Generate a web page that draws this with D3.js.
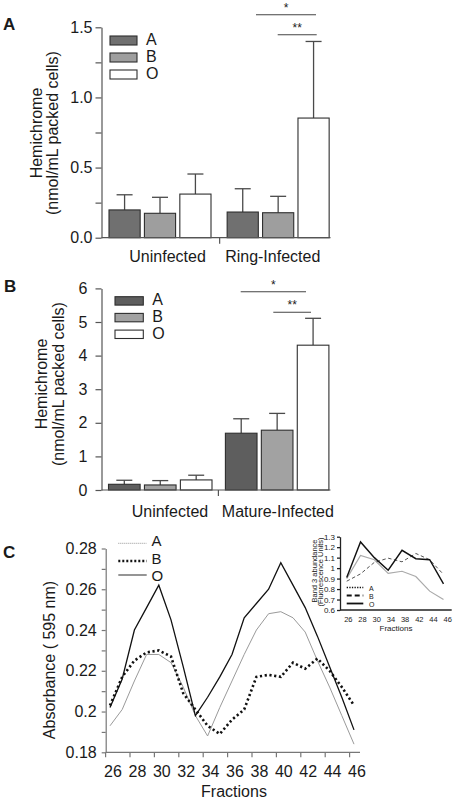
<!DOCTYPE html>
<html><head><meta charset="utf-8">
<script src="https://cdn.jsdelivr.net/npm/d3@7"></script>
<style>
body{margin:0;background:#fff}
svg{display:block}
text{font-family:"Liberation Sans",Arial,Helvetica,sans-serif;fill:#1a1a1a}
</style>
</head><body>
<svg id="chart" width="455" height="800"></svg>
<script>
// ---------------- DATA ----------------
const seriesNames = ["A", "B", "O"];

// Panel A
const groupsRing = ["Uninfected", "Ring-Infected"];
const uninfectedRingPanel = [0.198, 0.174, 0.311];
const uninfectedRingPanelSD = [0.108, 0.114, 0.143];
const ringInfected = [0.183, 0.178, 0.853];
const ringInfectedSD = [0.166, 0.117, 0.546];
const ticksPanelA = [0, 0.5, 1.0, 1.5];

// Panel B
const groupsMature = ["Uninfected", "Mature-Infected"];
const uninfectedMaturePanel = [0.17, 0.15, 0.30];
const uninfectedMaturePanelSD = [0.12, 0.13, 0.14];
const matureInfected = [1.69, 1.78, 4.31];
const matureInfectedSD = [0.43, 0.50, 0.80];
const ticksPanelB = [0, 1, 2, 3, 4, 5, 6];

// Panel C (main)
const fractions = [26, 27, 28, 29, 30, 31, 32, 33, 34, 35, 36, 37, 38, 39, 40, 41, 42, 43, 44, 45, 46];
const absorbanceA = [0.193, 0.201, 0.215, 0.228, 0.228, 0.224, 0.212, 0.198, 0.188, 0.202, 0.215, 0.228, 0.240, 0.248, 0.249, 0.246, 0.239, 0.225, 0.212, 0.198, 0.184];
const absorbanceB = [0.203, 0.217, 0.225, 0.229, 0.230, 0.227, 0.209, 0.201, 0.193, 0.189, 0.196, 0.201, 0.217, 0.218, 0.217, 0.224, 0.221, 0.226, 0.220, 0.212, 0.203];
const absorbanceO = [0.202, 0.216, 0.240, 0.251, 0.262, 0.245, 0.222, 0.198, 0.207, 0.217, 0.228, 0.246, 0.253, 0.260, 0.273, 0.262, 0.251, 0.237, 0.222, 0.207, 0.191];
const fractionTicks = [26, 28, 30, 32, 34, 36, 38, 40, 42, 44, 46];
const absorbanceTicks = [0.18, 0.2, 0.22, 0.24, 0.26, 0.28];

// Panel C (inset)
const insetFractions = ["26", "28", "30", "34", "38", "42", "44", "46"];
const band3A = [0.90, 1.12, 1.08, 0.95, 0.97, 0.92, 0.78, 0.70];
const band3B = [0.875, 0.945, 1.055, 1.095, 1.06, 1.14, 1.08, 0.94];
const band3O = [0.91, 1.25, 1.10, 0.98, 1.17, 1.09, 1.08, 0.85];
const insetTicks = [0.6, 0.7, 0.8, 0.9, 1, 1.1, 1.2, 1.3];

// ---------------- DRAW ----------------
const svg = d3.select("#chart");
const FONT = 16;

function panelLabel(t, x, y) {
  svg.append("text").attr("x", x).attr("y", y).text(t)
    .style("font-size", "17px").style("font-weight", "bold");
}

function barPanel(cfg) {
  const g = svg.append("g");
  const x0 = d3.scaleBand().domain(cfg.groups).range(cfg.xRange);
  const x1 = d3.scaleBand().domain(seriesNames).range(cfg.innerRange).paddingInner(0.12);
  const y = d3.scaleLinear().domain(cfg.domain).range(cfg.yRange);

  const rows = [];
  cfg.groups.forEach((grp, i) => seriesNames.forEach((s, j) => {
    rows.push({grp, s, v: cfg.values[i][j], e: cfg.sd[i][j]});
  }));

  // error bars (behind bars)
  const eb = g.append("g").attr("stroke", "#4a4a4a").attr("stroke-width", 1.3);
  rows.forEach(d => {
    const cx = x0(d.grp) + x1(d.s) + x1.bandwidth() / 2;
    eb.append("line").attr("x1", cx).attr("x2", cx).attr("y1", y(d.v)).attr("y2", y(d.v + d.e));
    eb.append("line").attr("x1", cx - 8).attr("x2", cx + 8).attr("y1", y(d.v + d.e)).attr("y2", y(d.v + d.e));
  });

  g.selectAll("rect.bar").data(rows).join("rect")
    .attr("x", d => x0(d.grp) + x1(d.s))
    .attr("y", d => y(d.v))
    .attr("width", x1.bandwidth())
    .attr("height", d => y(0) - y(d.v))
    .attr("fill", d => cfg.colors[d.s])
    .attr("stroke", "#2e2e2e").attr("stroke-width", 1.1);

  // y axis
  const ya = g.append("g").attr("transform", `translate(${cfg.xRange[0]},0)`)
    .call(d3.axisLeft(y).tickValues(cfg.minorTicks).tickSize(6).tickSizeOuter(0)
      .tickPadding(cfg.tickPad)
      .tickFormat(d => cfg.majorTicks.some(m => Math.abs(m - d) < 1e-9) ? cfg.fmt(d) : ""));
  ya.selectAll("path,line").attr("stroke", "#555").attr("stroke-width", 1.2);
  ya.selectAll("text").style("font-size", FONT + "px").attr("fill", "#1a1a1a");

  // x baseline
  g.append("line").attr("x1", cfg.xRange[0]).attr("x2", cfg.axisEnd)
    .attr("y1", y(0)).attr("y2", y(0)).attr("stroke", "#555").attr("stroke-width", 1.2);
  // separator tick
  const sx = x0(cfg.groups[1]);
  g.append("line").attr("x1", sx).attr("x2", sx).attr("y1", y(0)).attr("y2", y(0) + 6)
    .attr("stroke", "#555").attr("stroke-width", 1.2);

  // group labels
  cfg.groups.forEach((grp, i) => {
    g.append("text").attr("x", x0(grp) + x0.bandwidth() / 2 + cfg.labelDx[i])
      .attr("y", y(0) + cfg.labelDy).attr("text-anchor", "middle")
      .style("font-size", FONT + "px").text(grp);
  });

  // y title
  const ty = cfg.titleY;
  g.append("text").attr("transform", `translate(${cfg.titleX[0]},${ty}) rotate(-90)`)
    .attr("text-anchor", "middle").style("font-size", FONT + "px").text("Hemichrome");
  g.append("text").attr("transform", `translate(${cfg.titleX[1]},${ty}) rotate(-90)`)
    .attr("text-anchor", "middle").style("font-size", FONT + "px").text("(nmol/mL packed cells)");

  // legend
  seriesNames.forEach((s, i) => {
    const ly = cfg.legend.y + i * cfg.legend.step;
    g.append("rect").attr("x", cfg.legend.x).attr("y", ly)
      .attr("width", cfg.legend.w).attr("height", cfg.legend.h)
      .attr("fill", cfg.colors[s]).attr("stroke", "#2e2e2e").attr("stroke-width", 1.1);
    g.append("text").attr("x", cfg.legend.x + cfg.legend.w + 9).attr("y", ly + cfg.legend.h)
      .style("font-size", FONT + "px").text(s);
  });

  // significance brackets
  const sg = g.append("g");
  cfg.sig.forEach(s => {
    sg.append("line").attr("x1", s.x1).attr("x2", s.x2).attr("y1", s.y).attr("y2", s.y)
      .attr("stroke", "#444").attr("stroke-width", 1.1);
    sg.append("text").attr("x", (s.x1 + s.x2) / 2).attr("y", s.y - 3).attr("text-anchor", "middle")
      .style("font-size", "12px").text(s.label);
  });
  return {x0, x1, y};
}

// Panel A
panelLabel("A", 3, 30);
barPanel({
  groups: groupsRing,
  values: [uninfectedRingPanel, ringInfected],
  sd: [uninfectedRingPanelSD, ringInfectedSD],
  domain: [0, 1.5], yRange: [237.7, 27.3],
  xRange: [101.5, 337.8], innerRange: [7.5, 109.5], axisEnd: 330.5,
  colors: {A: "#707070", B: "#9e9e9e", O: "#ffffff"},
  minorTicks: d3.range(0, 1.51, 0.25), majorTicks: ticksPanelA,
  fmt: d3.format(".1f"), tickPad: 3,
  labelDx: [7, -6], labelDy: 24,
  titleX: [41.5, 57.5], titleY: 133,
  legend: {x: 110, y: 36, step: 17, w: 27, h: 9},
  sig: [{x1: 256, x2: 316, y: 14.7, label: "*"}, {x1: 277.7, x2: 316.7, y: 34.7, label: "**"}]
});

// Panel B
panelLabel("B", 4, 292);
barPanel({
  groups: groupsMature,
  values: [uninfectedMaturePanel, matureInfected],
  sd: [uninfectedMaturePanelSD, matureInfectedSD],
  domain: [0, 6], yRange: [490, 288.4],
  xRange: [101.5, 335.3], innerRange: [7, 110.5], axisEnd: 330.5,
  colors: {A: "#5e5e5e", B: "#a2a2a2", O: "#ffffff"},
  minorTicks: ticksPanelB, majorTicks: ticksPanelB,
  fmt: d3.format("d"), tickPad: 8,
  labelDx: [10, 1], labelDy: 27,
  titleX: [46.5, 64], titleY: 384,
  legend: {x: 115, y: 296.7, step: 16.7, w: 28.3, h: 8.4},
  sig: [{x1: 240.7, x2: 306, y: 291.7, label: "*"}, {x1: 273.3, x2: 311, y: 312.3, label: "**"}]
});

// Panel C main
panelLabel("C", 3, 558);
(function () {
  const g = svg.append("g");
  const x = d3.scaleLinear().domain([26, 46]).range([110, 354]);
  const y = d3.scaleLinear().domain([0.18, 0.28]).range([752.3, 548.5]);
  const axisX = x(26) - 4.3;
  const axisColor = "#777";

  // y axis
  const ya = g.append("g").attr("transform", `translate(${axisX},0)`)
    .call(d3.axisLeft(y).tickValues(d3.range(0.18, 0.2805, 0.01)).tickSize(4).tickSizeOuter(0)
      .tickPadding(5)
      .tickFormat(d => absorbanceTicks.some(m => Math.abs(m - d) < 1e-9) ? String(+d.toFixed(2)) : ""));
  ya.selectAll("path,line").attr("stroke", axisColor).attr("stroke-width", 1.2);
  ya.selectAll("text").style("font-size", FONT + "px").attr("fill", "#1a1a1a");

  // x axis
  g.append("line").attr("x1", axisX).attr("x2", 360).attr("y1", y(0.18)).attr("y2", y(0.18))
    .attr("stroke", axisColor).attr("stroke-width", 1.2);
  fractionTicks.forEach(f => {
    const tx = x(f) - 4.4;
    g.append("line").attr("x1", tx).attr("x2", tx).attr("y1", y(0.18)).attr("y2", y(0.18) + 5)
      .attr("stroke", axisColor).attr("stroke-width", 1.2);
    g.append("text").attr("x", x(f) + 3).attr("y", 777).attr("text-anchor", "middle")
      .style("font-size", FONT + "px").text(f);
  });
  g.append("text").attr("x", 234).attr("y", 797).attr("text-anchor", "middle")
    .style("font-size", FONT + "px").text("Fractions");
  g.append("text").attr("transform", "translate(55,660) rotate(-90)").attr("text-anchor", "middle")
    .style("font-size", FONT + "px").text("Absorbance ( 595 nm)");

  const line = d3.line().x((d, i) => x(fractions[i])).y(d => y(d));
  g.append("path").datum(absorbanceA).attr("d", line).attr("fill", "none")
    .attr("stroke", "#9a9a9a").attr("stroke-width", 1);
  g.append("path").datum(absorbanceB).attr("d", line).attr("fill", "none")
    .attr("stroke", "#111").attr("stroke-width", 2.6).attr("stroke-dasharray", "2.2,2.6");
  g.append("path").datum(absorbanceO).attr("d", line).attr("fill", "none")
    .attr("stroke", "#111").attr("stroke-width", 1.3);

  // legend
  const leg = [
    {s: "A", y: 543.3, stroke: "#aaa", w: 1.2, dash: "1,1", ty: 546},
    {s: "B", y: 561, stroke: "#111", w: 2.3, dash: "2,2", ty: 563.5},
    {s: "O", y: 575, stroke: "#7a7a7a", w: 1.6, dash: null, ty: 581}
  ];
  leg.forEach(l => {
    g.append("line").attr("x1", 118.3).attr("x2", 146.7).attr("y1", l.y).attr("y2", l.y)
      .attr("stroke", l.stroke).attr("stroke-width", l.w).attr("stroke-dasharray", l.dash);
    g.append("text").attr("x", 151.5).attr("y", l.ty).style("font-size", "15px").text(l.s);
  });
})();

// Panel C inset
(function () {
  const g = svg.append("g");
  const x = d3.scalePoint().domain(insetFractions).range([346.7, 443.5]);
  const xl = d3.scalePoint().domain(insetFractions).range([348.3, 447.7]);
  const y = d3.scaleLinear().domain([0.6, 1.3]).range([610, 536.7]);
  const ax = 340;
  const ya = g.append("g").attr("transform", `translate(${ax},0)`)
    .call(d3.axisLeft(y).tickValues(insetTicks).tickSize(3).tickSizeOuter(0).tickPadding(2)
      .tickFormat(d => String(+d.toFixed(1))));
  ya.selectAll("path,line").attr("stroke", "#222").attr("stroke-width", 1.3);
  ya.selectAll("text").style("font-size", "8px").attr("fill", "#222");
  g.append("line").attr("x1", ax).attr("x2", 451.7).attr("y1", y(0.6)).attr("y2", y(0.6))
    .attr("stroke", "#222").attr("stroke-width", 1.3);
  insetFractions.forEach(f => {
    g.append("text").attr("x", xl(f)).attr("y", 622).attr("text-anchor", "middle")
      .style("font-size", "7.5px").attr("fill", "#222").text(f);
  });
  g.append("text").attr("x", 396).attr("y", 630.5).attr("text-anchor", "middle")
    .style("font-size", "8px").attr("fill", "#222").text("Fractions");
  g.append("text").attr("transform", "translate(317.3,571) rotate(-90)").attr("text-anchor", "middle")
    .style("font-size", "7.5px").attr("fill", "#222").text("Band 3 abundance");
  g.append("text").attr("transform", "translate(323.3,572) rotate(-90)").attr("text-anchor", "middle")
    .style("font-size", "7.5px").attr("fill", "#222").text("(Fluorescence Units)");

  const line = d3.line().x((d, i) => x(insetFractions[i])).y(d => y(d));
  g.append("path").datum(band3A).attr("d", line).attr("fill", "none")
    .attr("stroke", "#aaa").attr("stroke-width", 1.2);
  g.append("path").datum(band3B).attr("d", line).attr("fill", "none")
    .attr("stroke", "#555").attr("stroke-width", 1).attr("stroke-dasharray", "3.5,2.5");
  g.append("path").datum(band3O).attr("d", line).attr("fill", "none")
    .attr("stroke", "#111").attr("stroke-width", 1.4);

  const leg = [
    {s: "A", y: 587.5, dash: "1.3,1.3", w: 1.6, ty: 590.5},
    {s: "B", y: 595.5, dash: "5,3", w: 1.8, ty: 598.5},
    {s: "O", y: 603.5, dash: null, w: 1.8, ty: 606.5}
  ];
  leg.forEach(l => {
    g.append("line").attr("x1", 346.7).attr("x2", 363.3).attr("y1", l.y).attr("y2", l.y)
      .attr("stroke", "#111").attr("stroke-width", l.w).attr("stroke-dasharray", l.dash);
    g.append("text").attr("x", 369).attr("y", l.ty).style("font-size", "7px").attr("fill", "#222").text(l.s);
  });
})();
</script>
</body></html>
